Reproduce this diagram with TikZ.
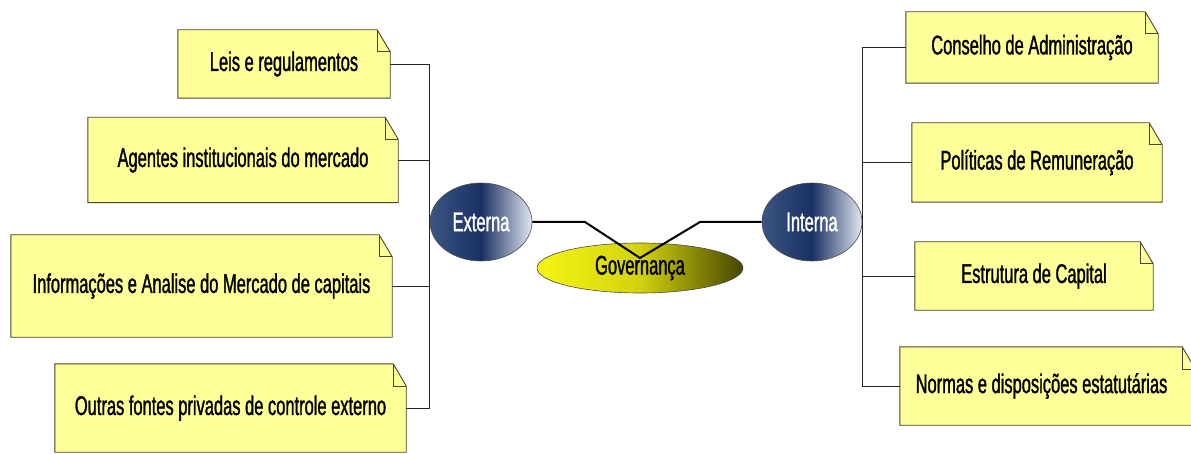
\documentclass[tikz,border=0pt]{standalone}
\usepackage{fontspec}
\setmainfont{Liberation Sans}[FakeStretch=0.61,FakeBold=1.2]
\usetikzlibrary{shapes.geometric}
\definecolor{notefill}{RGB}{255,255,153}
\definecolor{noteline}{RGB}{70,70,40}
\definecolor{navy}{RGB}{25,48,98}
\definecolor{navylight}{RGB}{225,230,240}
\definecolor{navymid}{RGB}{60,85,130}
\definecolor{goldl}{RGB}{245,245,20}
\definecolor{goldd}{RGB}{70,70,0}
\tikzset{
  notetext/.style={inner sep=0pt, font=\fontsize{27}{30}\selectfont, text=black},
  bubble/.style={ellipse, draw=black!70, line width=0.6pt, inner sep=0pt,
     font=\fontsize{27}{30}\selectfont},
  link/.style={draw=black!85, line width=0.9pt},
  mainlink/.style={draw=black, line width=2pt, line join=miter}
}
\newcommand{\notebox}[6]{%
  \node[notetext, minimum width=#4pt, minimum height=#5pt] (#1) at (#2,#3) {#6};
  \filldraw[fill=notefill, draw=noteline, line width=0.9pt]
    (#1.south west) -- (#1.north west) -- ([xshift=-13pt]#1.north east)
    -- ([yshift=-22pt]#1.north east) -- (#1.south east) -- cycle;
  \draw[noteline, line width=0.6pt] ([xshift=-13pt]#1.north east) |- ([yshift=-22pt]#1.north east);
  \node[notetext] at (#1) {#6};
}
\begin{document}
\begin{tikzpicture}[x=1pt,y=-1pt]
\useasboundingbox (0,0) rectangle (1191,454);
\fill[white] (0,0) rectangle (1191,454);

% left notes
\notebox{l1}{284}{64}{212}{68}{Leis e regulamentos}
\notebox{l2}{243}{160}{310}{85}{Agentes institucionais do mercado}
\notebox{l3}{201.5}{286}{381}{102}{Informações e Analise do Mercado de capitais}
\notebox{l4}{230.5}{408}{351}{88}{Outras fontes privadas de controle externo}
% right notes
\notebox{r1}{1032}{47.5}{252}{71}{Conselho de Administração}
\notebox{r2}{1037}{162.5}{250}{79}{Políticas de Remuneração}
\notebox{r3}{1034}{276}{238}{68}{Estrutura de Capital}
\notebox{r4}{1047.5}{386}{295}{78}{\hspace*{-12pt}Normas e disposições estatutárias}

% central bubbles
\node[bubble, minimum width=102pt, minimum height=78pt,
      left color=navymid, right color=navylight, middle color=navy, text=white]
      (ext) at (481,222) {Externa};
\node[bubble, minimum width=100pt, minimum height=78pt,
      left color=navymid, right color=navylight, middle color=navy, text=white]
      (int) at (812,222) {Interna};
\node[bubble, minimum width=206pt, minimum height=50pt,
      left color=goldl, right color=goldd, middle color=goldl!80!goldd, text=black]
      (gov) at (640,268) {Governança};

% connectors
\coordinate (kl) at (585,222);
\coordinate (kv) at (640,258);
\coordinate (kr) at (700,222);
\draw[mainlink] (ext.east) -- (kl) -- (kv) -- (kr) -- (int.west);

\foreach \n in {l1,l2,l3,l4} \draw[link] (\n.east) -| (ext.west);
\foreach \n in {r1,r2,r3,r4} \draw[link] (\n.west) -| (int.east);
\end{tikzpicture}
\end{document}
